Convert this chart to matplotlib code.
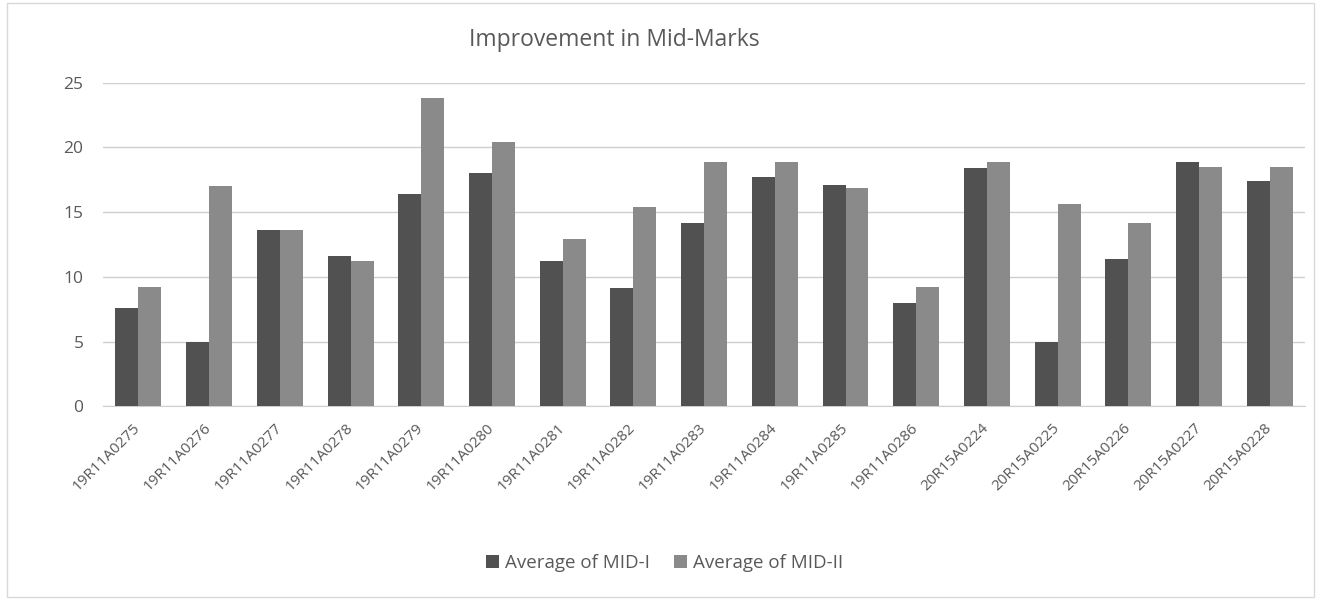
import numpy as np
import matplotlib.pyplot as plt

students = ["19R11A0275", "19R11A0276", "19R11A0277", "19R11A0278", "19R11A0279",
            "19R11A0280", "19R11A0281", "19R11A0282", "19R11A0283", "19R11A0284",
            "19R11A0285", "19R11A0286", "20R15A0224", "20R15A0225", "20R15A0226",
            "20R15A0227", "20R15A0228"]
mid1 = [7.6, 5.0, 13.6, 11.6, 16.4, 18.0, 11.2, 9.1, 14.2, 17.7, 17.1, 8.0, 18.4, 5.0, 11.4, 18.9, 17.4]
mid2 = [9.2, 17.0, 13.6, 11.2, 23.8, 20.4, 12.9, 15.4, 18.9, 18.9, 16.9, 9.2, 18.9, 15.6, 14.2, 18.5, 18.5]

plt.rcParams['font.family'] = ['Open Sans', 'DejaVu Sans']
txt = '#595959'

fig = plt.figure(figsize=(13.21, 6), dpi=100)
ax = fig.add_axes([0.078, 0.323, 0.91, 0.539])

x = np.arange(len(students))
w = 0.325
ax.bar(x - w / 2, mid1, w, color='#515151', label='Average of MID-I', zorder=3)
ax.bar(x + w / 2, mid2, w, color='#8a8a8a', label='Average of MID-II', zorder=3)

ax.set_xlim(-0.5, len(students) - 0.5)
ax.set_ylim(0, 25)
ax.set_yticks([0, 5, 10, 15, 20, 25])
ax.grid(axis='y', color='#cfcfcf', linewidth=1, zorder=0)
for s in ['top', 'right', 'left']:
    ax.spines[s].set_visible(False)
ax.spines['bottom'].set_color('#cfcfcf')
ax.tick_params(length=0, colors=txt, labelsize=12.5)
ax.tick_params(axis='y', pad=14)
ax.tick_params(axis='x', pad=14)
ax.set_xticks(x)
ax.set_xticklabels(students, rotation=45, ha='right', va='center',
                   rotation_mode='anchor', fontsize=11)

fig.text(0.465, 0.933, 'Improvement in Mid-Marks', ha='center', va='center', fontsize=16.5, color=txt)
fig.legend(loc='center', bbox_to_anchor=(0.503, 0.062), ncol=2, frameon=False,
           fontsize=13.5, labelcolor=txt, handlelength=0.7, handleheight=0.7,
           handletextpad=0.3, columnspacing=1.3)

rect = plt.Rectangle((0.005, 0.005), 0.99, 0.99, transform=fig.transFigure,
                     fill=False, edgecolor='#d9d9d9', linewidth=1)
fig.patches.append(rect)

fig.savefig('out.png', dpi=100)
